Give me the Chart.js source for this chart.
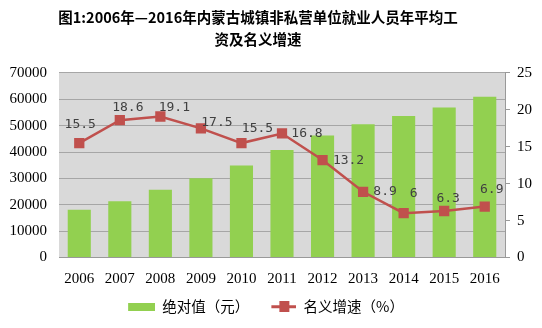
<!DOCTYPE html>
<html><head><meta charset="utf-8">
<script src="https://cdn.jsdelivr.net/npm/chart.js@4/dist/chart.umd.min.js"></script>
<style>html,body{margin:0;padding:0;background:#fff}#wrap{width:542px;height:328px}</style>
</head><body><div id="wrap"><canvas id="c" width="542" height="328"></canvas></div>
<script>
const categories = ['2006','2007','2008','2009','2010','2011','2012','2013','2014','2015','2016'];
const wageValues = [18100,21300,25700,30100,34900,40800,46300,50500,53700,56900,61000];
const growthValues = [15.5,18.6,19.1,17.5,15.5,16.8,13.2,8.9,6,6.3,6.9];
const growthLabels = ['15.5','18.6','19.1','17.5','15.5','16.8','13.2','8.9','6','6.3','6.9'];
const titleLines = ['图1:2006年—2016年内蒙古城镇非私营单位就业人员年平均工','资及名义增速'];
const seriesNames = ['绝对值（元）','名义增速（%）'];

const GREEN = '#92d050', RED = '#c0504d';
const serif = "'Liberation Serif','DejaVu Serif',serif";
const cjk = "'Noto Sans CJK SC',serif";

function iconBar(){const c=document.createElement('canvas');c.width=41;c.height=8;const x=c.getContext('2d');x.fillStyle=GREEN;x.fillRect(14,0,27,8);return c;}
function iconLine(){const c=document.createElement('canvas');c.width=41;c.height=11;const x=c.getContext('2d');x.fillStyle=RED;x.fillRect(16,4,25,3);x.fillRect(24,0,10,11);return c;}

const labelOffsets = [[1,-18],[8,-13],[14,-9],[16,-6],[16,-14],[25,0],[26,1],[22,0],[10,-20],[4,-12],[7,-17]];

const bgPlugin = {id:'bg',beforeDraw(ch){const a=ch.chartArea,x=ch.ctx;x.save();x.fillStyle='#d9d9d9';x.fillRect(a.left,a.top,a.right-a.left,a.bottom-a.top);x.restore();}};
const shiftPlugin = {id:'shift',afterLayout(ch){if(ch.titleBlock){ch.titleBlock.left-=13;ch.titleBlock.right-=13;}if(ch.legend){ch.legend.left-=12;ch.legend.right-=12;}}};
const lblPlugin = {id:'lbl',afterDatasetsDraw(ch){const x=ch.ctx;const meta=ch.getDatasetMeta(0);x.save();x.font="13px 'DejaVu Sans Mono','Liberation Mono',monospace";x.fillStyle='#404040';x.textBaseline='middle';x.textAlign='center';
meta.data.forEach((p,i)=>{const o=labelOffsets[i];x.fillText(growthLabels[i],p.x+o[0],p.y+o[1]);});x.restore();}};

new Chart(document.getElementById('c'),{
  data:{labels:categories,datasets:[
    {type:'line',label:seriesNames[1],data:growthValues,yAxisID:'y1',borderColor:RED,backgroundColor:RED,borderWidth:2.5,pointStyle:'rect',pointRadius:5.5,pointBackgroundColor:RED,pointBorderColor:RED,order:0},
    {type:'bar',label:seriesNames[0],data:wageValues,yAxisID:'y',backgroundColor:GREEN,barPercentage:0.57,categoryPercentage:1,order:1}
  ]},
  options:{responsive:false,animation:false,devicePixelRatio:1,
    layout:{padding:{top:4,bottom:4,left:0,right:0}},
    plugins:{
      title:{display:true,text:titleLines,font:{family:cjk,size:14.5,weight:'bold',lineHeight:1.55},color:'#000',padding:{top:2,bottom:22}},
      legend:{position:'bottom',labels:{usePointStyle:true,pointStyleWidth:41,font:{family:cjk,size:14.5},color:'#000',padding:6,
        generateLabels(ch){return [
          {text:seriesNames[0],pointStyle:iconBar(),fillStyle:GREEN,strokeStyle:GREEN,lineWidth:0,datasetIndex:1},
          {text:seriesNames[1],pointStyle:iconLine(),fillStyle:RED,strokeStyle:RED,lineWidth:0,datasetIndex:0}];}}},
      tooltip:{enabled:false}},
    scales:{
      x:{grid:{display:false},border:{color:'#999'},ticks:{font:{family:serif,size:15},color:'#000',padding:5}},
      y:{position:'left',min:0,max:70000,ticks:{stepSize:10000,callback:v=>String(v),font:{family:serif,size:15},color:'#000',padding:12},grid:{color:'#a6a6a6',drawTicks:false},border:{display:false},afterFit(s){s.width=59;}},
      y1:{position:'right',min:0,max:25,ticks:{stepSize:5,font:{family:serif,size:15},color:'#000',padding:7},grid:{drawOnChartArea:false,color:'#999',tickLength:5},border:{color:'#999'},afterFit(s){s.width=37;}}
    }},
  plugins:[bgPlugin,shiftPlugin,lblPlugin]
});
</script></body></html>
